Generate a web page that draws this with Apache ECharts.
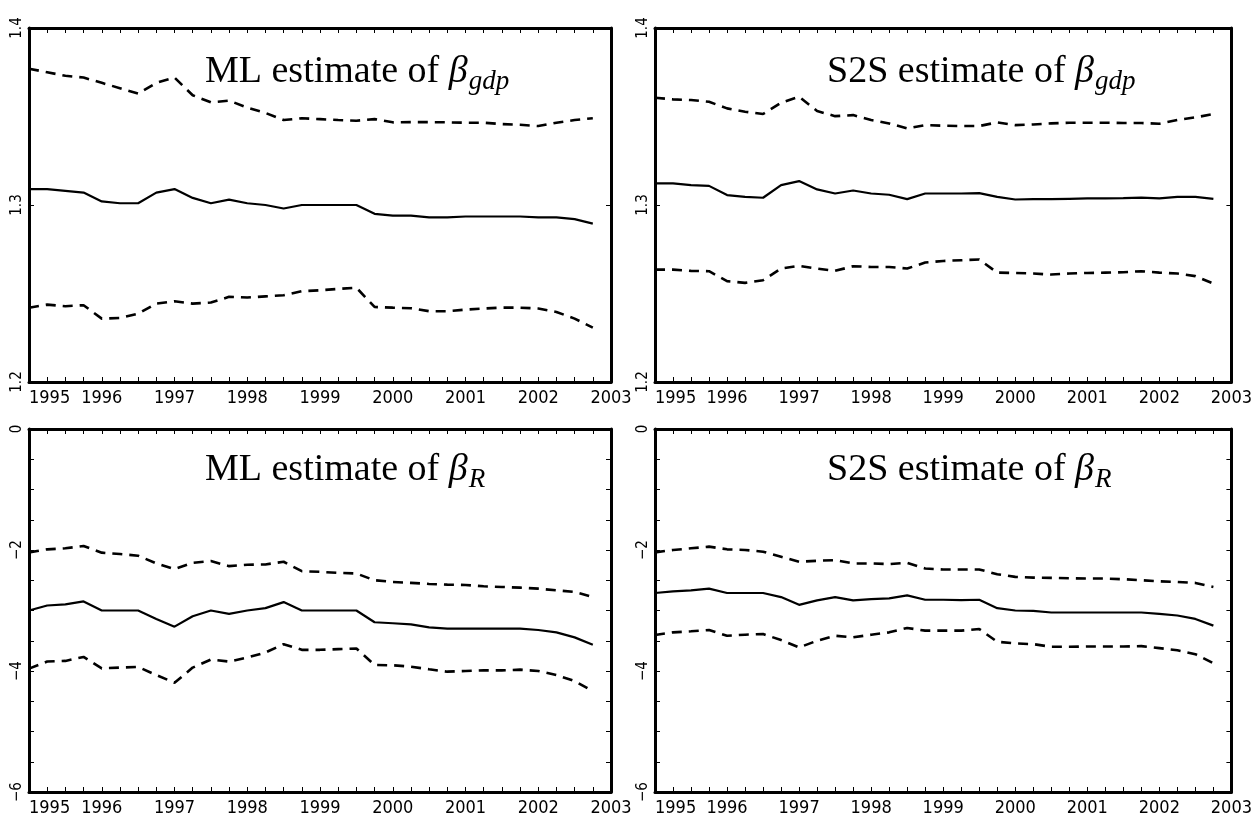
<!DOCTYPE html>
<html>
<head>
<meta charset="utf-8">
<script src="https://cdn.jsdelivr.net/npm/echarts@6/dist/echarts.min.js"></script>
<style>
  html, body { margin: 0; padding: 0; background: #fff; }
  #chart { width: 1255px; height: 817px; }
</style>
</head>
<body>
<div id="chart"></div>
<script>
// quarterly observation dates, 1995Q1 .. 2002Q4
const quarters = [1995.0, 1995.25, 1995.5, 1995.75, 1996.0, 1996.25, 1996.5, 1996.75,
  1997.0, 1997.25, 1997.5, 1997.75, 1998.0, 1998.25, 1998.5, 1998.75,
  1999.0, 1999.25, 1999.5, 1999.75, 2000.0, 2000.25, 2000.5, 2000.75,
  2001.0, 2001.25, 2001.5, 2001.75, 2002.0, 2002.25, 2002.5, 2002.75];

// ML estimate of beta_gdp
const mlGdpMid = [1.309, 1.309, 1.308, 1.307, 1.302, 1.301, 1.301, 1.307, 1.309, 1.304, 1.301, 1.303,
  1.301, 1.300, 1.298, 1.300, 1.300, 1.300, 1.300, 1.295, 1.294, 1.294, 1.293, 1.293,
  1.2935, 1.2935, 1.2935, 1.2935, 1.293, 1.293, 1.292, 1.2895];
const mlGdpUp = [1.377, 1.375, 1.373, 1.372, 1.369, 1.366, 1.363, 1.369, 1.372, 1.362, 1.358, 1.359,
  1.355, 1.352, 1.348, 1.349, 1.3485, 1.348, 1.3476, 1.3485, 1.3467, 1.3468, 1.3468, 1.3467,
  1.3465, 1.3465, 1.3457, 1.3453, 1.3446, 1.3465, 1.348, 1.349];
const mlGdpLo = [1.242, 1.2437, 1.2428, 1.2434, 1.2358, 1.2362, 1.2386, 1.2443, 1.2456, 1.2443, 1.2449, 1.2481,
  1.2477, 1.2484, 1.249, 1.2513, 1.2518, 1.2526, 1.2533, 1.2424, 1.242, 1.2417, 1.24, 1.24,
  1.2409, 1.2415, 1.242, 1.242, 1.2415, 1.2396, 1.2358, 1.2307];

// S2S estimate of beta_gdp
const s2sGdpMid = [1.3122, 1.3122, 1.3112, 1.3108, 1.3056, 1.3046, 1.3041, 1.3112, 1.3135, 1.3088, 1.3065, 1.3082,
  1.3065, 1.3058, 1.3033, 1.3065, 1.3065, 1.3065, 1.3067, 1.3046, 1.3031, 1.3033, 1.3033, 1.3035,
  1.3037, 1.3037, 1.3039, 1.3042, 1.3037, 1.3046, 1.3046, 1.3035];
const s2sGdpUp = [1.3606, 1.3597, 1.3593, 1.3583, 1.3546, 1.3527, 1.3514, 1.3578, 1.3612, 1.3531, 1.3502, 1.3508,
  1.348, 1.3461, 1.3433, 1.3451, 1.3448, 1.3446, 1.3446, 1.3467, 1.3451, 1.3455, 1.3461, 1.3465,
  1.3465, 1.3465, 1.3463, 1.3463, 1.3459, 1.348, 1.3495, 1.3514];
const s2sGdpLo = [1.2635, 1.2635, 1.2628, 1.2626, 1.257, 1.256, 1.2575, 1.2641, 1.2656, 1.2641, 1.2628, 1.2654,
  1.265, 1.265, 1.2641, 1.2675, 1.2684, 1.2688, 1.2692, 1.2618, 1.2616, 1.2613, 1.2607, 1.2613,
  1.2616, 1.2618, 1.262, 1.2626, 1.2618, 1.2613, 1.2598, 1.2556];

// ML estimate of beta_R
const mlRMid = [-3.0, -2.917, -2.9, -2.85, -3.0, -3.0, -3.0, -3.139, -3.267, -3.094, -3.0, -3.056,
  -3.0, -2.961, -2.861, -3.0, -3.0, -3.0, -3.0, -3.194, -3.211, -3.228, -3.278, -3.3,
  -3.3, -3.3, -3.3, -3.3, -3.322, -3.361, -3.444, -3.567];
const mlRUp = [-2.039, -1.989, -1.972, -1.933, -2.044, -2.067, -2.094, -2.222, -2.317, -2.211, -2.183, -2.267,
  -2.244, -2.239, -2.194, -2.35, -2.361, -2.378, -2.389, -2.5, -2.528, -2.544, -2.561, -2.572,
  -2.578, -2.6, -2.611, -2.622, -2.639, -2.667, -2.694, -2.778];
const mlRLo = [-3.961, -3.844, -3.833, -3.767, -3.956, -3.944, -3.933, -4.067, -4.194, -3.944, -3.811, -3.844,
  -3.778, -3.694, -3.556, -3.65, -3.65, -3.639, -3.628, -3.9, -3.906, -3.928, -3.972, -4.011,
  -4.0, -3.989, -3.989, -3.978, -4.0, -4.067, -4.167, -4.333];

// S2S estimate of beta_R
const s2sRMid = [-2.711, -2.683, -2.667, -2.639, -2.711, -2.711, -2.711, -2.778, -2.906, -2.833, -2.778, -2.833,
  -2.811, -2.8, -2.75, -2.822, -2.822, -2.828, -2.822, -2.961, -3.0, -3.006, -3.033, -3.033,
  -3.033, -3.033, -3.033, -3.033, -3.056, -3.083, -3.139, -3.25];
const s2sRUp = [-2.039, -2.0, -1.972, -1.944, -1.989, -2.0, -2.028, -2.111, -2.194, -2.178, -2.167, -2.222,
  -2.222, -2.233, -2.211, -2.306, -2.322, -2.322, -2.322, -2.4, -2.444, -2.456, -2.461, -2.467,
  -2.472, -2.472, -2.483, -2.5, -2.517, -2.528, -2.544, -2.611];
const s2sRLo = [-3.406, -3.361, -3.344, -3.322, -3.417, -3.4, -3.389, -3.489, -3.611, -3.5, -3.417, -3.444,
  -3.4, -3.361, -3.289, -3.333, -3.333, -3.333, -3.306, -3.517, -3.544, -3.556, -3.6, -3.6,
  -3.594, -3.594, -3.594, -3.589, -3.622, -3.656, -3.722, -3.872];

const yearMin = 1995, yearMax = 2003;

const panels = [
  { name: 'ML', sub: 'gdp', mid: mlGdpMid, up: mlGdpUp, lo: mlGdpLo, ymin: 1.2, ymax: 1.4, step: 0.1, minor: 0 },
  { name: 'S2S', sub: 'gdp', mid: s2sGdpMid, up: s2sGdpUp, lo: s2sGdpLo, ymin: 1.2, ymax: 1.4, step: 0.1, minor: 0 },
  { name: 'ML', sub: 'R', mid: mlRMid, up: mlRUp, lo: mlRLo, ymin: -6, ymax: 0, step: 2, minor: 4 },
  { name: 'S2S', sub: 'R', mid: s2sRMid, up: s2sRUp, lo: s2sRLo, ymin: -6, ymax: 0, step: 2, minor: 4 }
];

const boxes = [
  { left: 29, top: 28, width: 582, height: 354, titleTop: 45 },
  { left: 655, top: 28, width: 582, height: 354, titleTop: 45 },
  { left: 29, top: 429, width: 582, height: 363, titleTop: 443 },
  { left: 655, top: 429, width: 582, height: 363, titleTop: 443 }
];

const frame = { show: true, onZero: false, lineStyle: { color: '#000', width: 3 } };
const tickIn = { show: true, inside: true, length: 5, lineStyle: { color: '#000', width: 1 } };
const labelFont = "'Liberation Sans Narrow', 'DejaVu Sans Condensed', 'Liberation Sans', sans-serif";
const serif = "'Liberation Serif', 'DejaVu Serif', serif";

const grid = [], xAxis = [], yAxis = [], series = [], title = [];

panels.forEach(function (p, i) {
  const b = boxes[i];
  grid.push({ left: b.left, top: b.top, width: b.width, height: b.height, containLabel: false });

  // bottom axis with year labels, top axis just mirrors the ticks
  xAxis.push({
    type: 'value', gridIndex: i, position: 'bottom', min: yearMin, max: yearMax, interval: 1,
    axisLine: frame, axisTick: tickIn,
    minorTick: { show: true, splitNumber: 4, length: 5, lineStyle: { color: '#000', width: 1 } },
    splitLine: { show: false },
    axisLabel: {
      show: true, color: '#000', fontSize: 18, fontFamily: labelFont, margin: 7,
      showMinLabel: true, showMaxLabel: true, alignMinLabel: 'left',
      formatter: function (v) { return String(Math.round(v)); }
    }
  });
  xAxis.push({
    type: 'value', gridIndex: i, position: 'top', min: yearMin, max: yearMax, interval: 1,
    axisLine: frame, axisTick: tickIn,
    minorTick: { show: true, splitNumber: 4, length: 5, lineStyle: { color: '#000', width: 1 } },
    splitLine: { show: false }, axisLabel: { show: false }
  });

  const dec = p.step < 1 ? 1 : 0;
  yAxis.push({
    type: 'value', gridIndex: i, position: 'left', min: p.ymin, max: p.ymax, interval: p.step,
    axisLine: frame, axisTick: tickIn,
    minorTick: { show: p.minor > 0, splitNumber: p.minor, length: 5, lineStyle: { color: '#000', width: 1 } },
    splitLine: { show: false },
    axisLabel: {
      show: true, rotate: 90, color: '#000', fontSize: 15, fontFamily: labelFont, margin: 4,
      showMinLabel: true, showMaxLabel: true,
      formatter: function (v) { return v.toFixed(dec).replace('-', '\u2212'); }
    }
  });
  yAxis.push({
    type: 'value', gridIndex: i, position: 'right', min: p.ymin, max: p.ymax, interval: p.step,
    axisLine: frame, axisTick: tickIn,
    minorTick: { show: p.minor > 0, splitNumber: p.minor, length: 5, lineStyle: { color: '#000', width: 1 } },
    splitLine: { show: false }, axisLabel: { show: false }
  });

  const pair = function (arr) { return quarters.map(function (q, k) { return [q, arr[k]]; }); };
  [['up', 'dashed'], ['mid', 'solid'], ['lo', 'dashed']].forEach(function (s) {
    series.push({
      type: 'line', xAxisIndex: i * 2, yAxisIndex: i * 2, data: pair(p[s[0]]),
      symbol: 'none', silent: true, animation: false,
      lineStyle: s[1] === 'solid'
        ? { color: '#000', width: 2.2, type: 'solid' }
        : { color: '#000', width: 2.6, type: [10, 7] }
    });
  });

  title.push({
    text: '{a|' + p.name + ' estimate of }{b|\u03b2}{s|' + p.sub + '}',
    left: b.left + (p.name === 'ML' ? 171 : 167),
    top: b.titleTop,
    textStyle: {
      fontWeight: 'normal',
      rich: {
        a: { fontFamily: serif, fontSize: 38, fontWeight: 'normal', color: '#000' },
        b: { fontFamily: serif, fontSize: 38, fontWeight: 'normal', fontStyle: 'italic', color: '#000' },
        s: { fontFamily: serif, fontSize: 27, fontWeight: 'normal', fontStyle: 'italic', color: '#000', padding: [18, 0, 0, 1] }
      }
    }
  });
});

const chart = echarts.init(document.getElementById('chart'));
chart.setOption({
  backgroundColor: '#fff',
  animation: false,
  title: title,
  grid: grid,
  xAxis: xAxis,
  yAxis: yAxis,
  series: series
});
</script>
</body>
</html>
